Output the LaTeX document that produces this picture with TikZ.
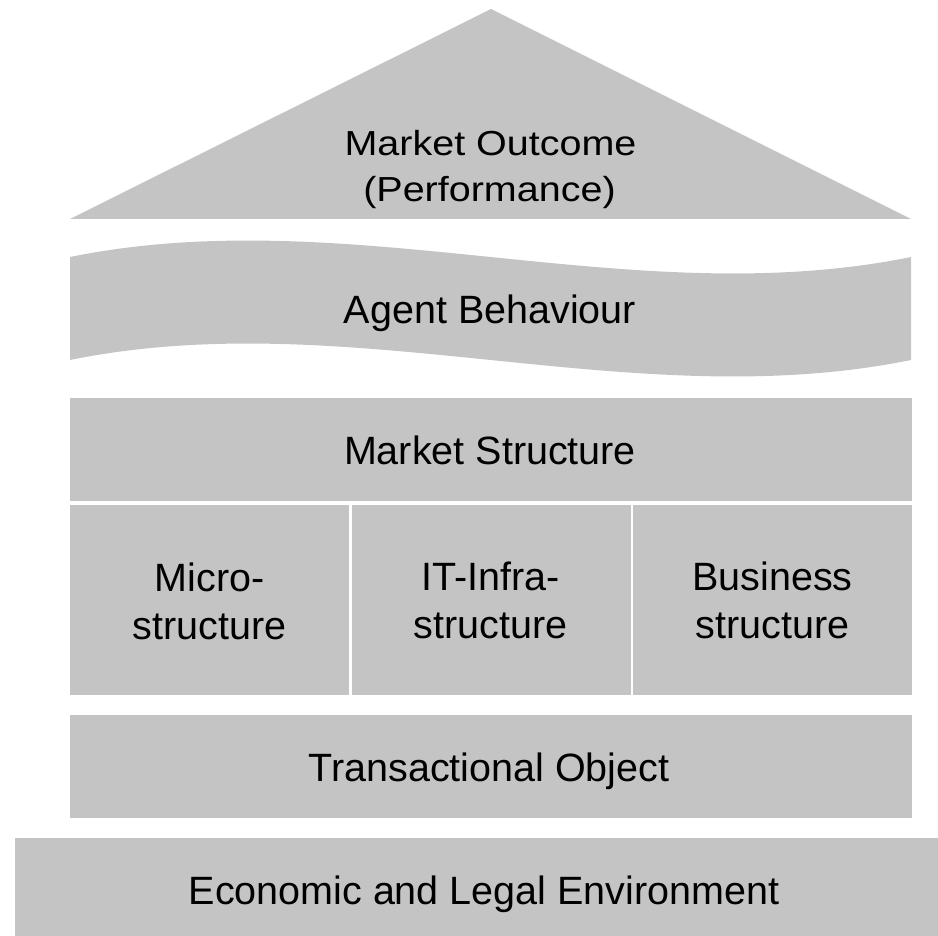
\documentclass[tikz,border=0pt]{standalone}
\usepackage{fontspec}
\setmainfont{Liberation Sans}
\definecolor{blockgray}{RGB}{196,196,196}
\begin{document}
\begin{tikzpicture}[x=0.5pt,y=-0.5pt,
  block/.style={fill=blockgray,draw=none},
  lbl/.style={anchor=base,inner sep=0pt,font=\fontsize{19.75pt}{24pt}\selectfont,text=black}]
\useasboundingbox (0,0) rectangle (938,936);
% roof
\path[block] (70,219) -- (491,9) -- (911,219) -- cycle;
\node[lbl] (mo1) at (490.5,156) {\scalebox{1}[0.88]{Market Outcome}};
\node[lbl] (mo2) at (489.5,201.7) {\scalebox{1}[0.88]{(Performance)}};
% wave
\path[block] (70,257) .. controls (350.3,200) and (630.7,314) .. (911,257)
  -- (911,360) .. controls (630.7,417) and (350.3,303) .. (70,360) -- cycle;
\node[lbl] (ab) at (490,323.3) {Agent Behaviour};
% market structure
\path[block] (70,398) rectangle (912,500.7);
\node[lbl] (ms) at (490,464.3) {Market Structure};
% three boxes
\path[block] (70,505) rectangle (349.2,694.5);
\path[block] (351.6,505) rectangle (630.6,694.5);
\path[block] (633.2,505) rectangle (912,694.5);
\node[lbl] (mi1) at (209.5,591) {Micro-};
\node[lbl] (mi2) at (209.5,639) {structure};
\node[lbl] (it1) at (490.5,590.7) {IT-Infra-};
\node[lbl] (it2) at (490.5,638.5) {structure};
\node[lbl] (bs1) at (772.5,590.5) {Business};
\node[lbl] (bs2) at (772.5,638.5) {structure};
% transactional object
\path[block] (70,715) rectangle (912,817.7);
\node[lbl] (to) at (489,781.7) {Transactional Object};
% economic and legal environment
\path[block] (15,837.7) rectangle (938,936);
\node[lbl] (el) at (484,904) {Economic and Legal Environment};
\end{tikzpicture}
\end{document}
